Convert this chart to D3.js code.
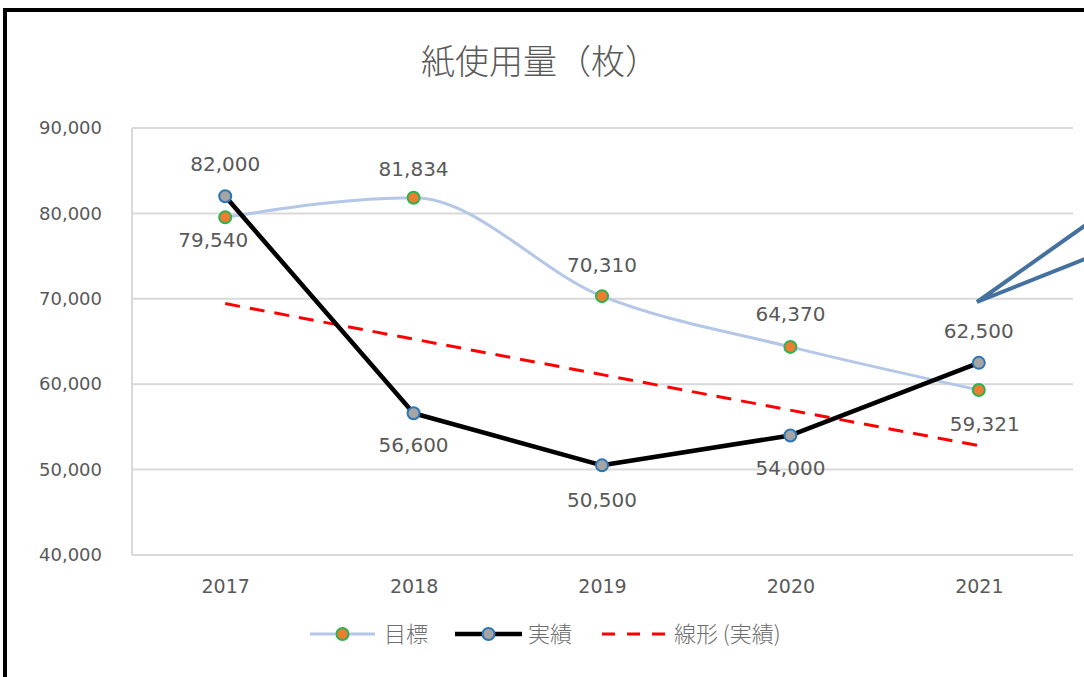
<!DOCTYPE html>
<html lang="ja">
<head>
<meta charset="UTF-8">
<title>紙使用量</title>
<style>
  body { margin: 0; background: #fff; }
  svg { display: block; font-family: "Noto Sans CJK JP", "Noto Sans", sans-serif; }
  .num { font-family: "DejaVu Sans", sans-serif; }
</style>
</head>
<body>
<svg id="chart" width="1084" height="677"></svg>
<script src="https://cdnjs.cloudflare.com/ajax/libs/d3/7.8.5/d3.min.js"></script>
<script>
const years = ['2017', '2018', '2019', '2020', '2021'];
const target = [79540, 81834, 70310, 64370, 59321];   // 目標
const actual = [82000, 56600, 50500, 54000, 62500];   // 実績
const yTicks = [40000, 50000, 60000, 70000, 80000, 90000];
const seriesNames = ['目標', '実績', '線形 (実績)'];

const W = 1084, H = 677;
const svg = d3.select('#chart');
const grey = '#595959';
const fmt = d3.format(',');

const x = d3.scalePoint().domain(years).range([131, 1073]).padding(0.5);
const y = d3.scaleLinear().domain([40000, 90000]).range([555, 128]);

// outer border (only left/top visible)
svg.append('rect')
  .attr('x', 5).attr('y', 10).attr('width', W + 20).attr('height', H + 20)
  .attr('fill', 'none').attr('stroke', '#000').attr('stroke-width', 4);

// title
svg.append('text')
  .attr('x', 540).attr('y', 74)
  .attr('text-anchor', 'middle')
  .attr('font-size', 34).attr('font-weight', 300).attr('fill', grey)
  .text('紙使用量（枚）');

// gridlines
svg.append('g').selectAll('line').data(yTicks).join('line')
  .attr('x1', 132).attr('x2', 1073)
  .attr('y1', d => y(d)).attr('y2', d => y(d))
  .attr('stroke', '#d9d9d9').attr('stroke-width', 2);

// y axis line
svg.append('line')
  .attr('x1', 132).attr('x2', 132).attr('y1', y(90000)).attr('y2', y(40000))
  .attr('stroke', '#d9d9d9').attr('stroke-width', 2);

// y tick labels
const yAxis = d3.axisLeft(y).tickValues(yTicks).tickFormat(fmt).tickSize(0).tickPadding(30);
const gy = svg.append('g').attr('transform', 'translate(132,0)').call(yAxis);
gy.select('.domain').remove();
gy.selectAll('text').attr('class', 'num').attr('font-size', 18).attr('fill', grey).attr('font-family', null);

// x tick labels
const xAxis = d3.axisBottom(x).tickSize(0).tickPadding(25);
const gx = svg.append('g').attr('transform', 'translate(0,555)').call(xAxis);
gx.select('.domain').remove();
gx.selectAll('text').attr('class', 'num').attr('font-size', 19).attr('fill', grey).attr('font-family', null);

// trend line (linear regression of 実績)
const n = actual.length;
const xs = d3.range(1, n + 1);
const mx = d3.mean(xs), my = d3.mean(actual);
const slope = d3.sum(xs, (v, i) => (v - mx) * (actual[i] - my)) / d3.sum(xs, v => (v - mx) ** 2);
const icpt = my - slope * mx;
const trend = [icpt + slope * 1, icpt + slope * n];
svg.append('line')
  .attr('x1', x(years[0])).attr('y1', y(trend[0]))
  .attr('x2', x(years[n - 1])).attr('y2', y(trend[1]))
  .attr('stroke', '#ff0000').attr('stroke-width', 3)
  .attr('stroke-dasharray', '15,10');

// 目標 line (smoothed)
const lineSmooth = d3.line().x((d, i) => x(years[i])).y(d => y(d)).curve(d3.curveMonotoneX);
svg.append('path').datum(target)
  .attr('d', lineSmooth)
  .attr('fill', 'none').attr('stroke', '#b4c7e7').attr('stroke-width', 3);

// 実績 line
const lineStraight = d3.line().x((d, i) => x(years[i])).y(d => y(d));
svg.append('path').datum(actual)
  .attr('d', lineStraight)
  .attr('fill', 'none').attr('stroke', '#000').attr('stroke-width', 4.5)
  .attr('stroke-linejoin', 'round');

// markers
svg.append('g').selectAll('circle').data(target).join('circle')
  .attr('cx', (d, i) => x(years[i])).attr('cy', d => y(d)).attr('r', 6)
  .attr('fill', '#ed7d31').attr('stroke', '#2db24f').attr('stroke-width', 2);
svg.append('g').selectAll('circle').data(actual).join('circle')
  .attr('cx', (d, i) => x(years[i])).attr('cy', d => y(d)).attr('r', 6)
  .attr('fill', '#a5a5a5').attr('stroke', '#2e75b6').attr('stroke-width', 2);

// data labels
const tPos = [[-12, 30], [0, -22], [0, -24], [0, -26], [6, 41]];
const aPos = [[0, -25], [0, 39], [0, 42], [0, 40], [0, -25]];
svg.append('g').selectAll('text').data(target).join('text')
  .attr('class', 'num')
  .attr('x', (d, i) => x(years[i]) + tPos[i][0])
  .attr('y', (d, i) => y(d) + tPos[i][1])
  .attr('text-anchor', 'middle').attr('font-size', 20).attr('fill', grey)
  .text(d => fmt(d));
svg.append('g').selectAll('text').data(actual).join('text')
  .attr('class', 'num')
  .attr('x', (d, i) => x(years[i]) + aPos[i][0])
  .attr('y', (d, i) => y(d) + aPos[i][1])
  .attr('text-anchor', 'middle').attr('font-size', 20).attr('fill', grey)
  .text(d => fmt(d));

// callout pointer
svg.append('path')
  .attr('d', 'M1090,222 L977,302 L1090,257')
  .attr('fill', 'none').attr('stroke', '#44719d').attr('stroke-width', 4)
  .attr('stroke-linejoin', 'miter');

// legend
const lg = svg.append('g').attr('transform', 'translate(0,634)');
const items = [
  { x1: 310, x2: 375, stroke: '#b4c7e7', sw: 3, fill: '#ed7d31', mk: '#2db24f', tx: 384 },
  { x1: 455, x2: 522, stroke: '#000', sw: 4.5, fill: '#a5a5a5', mk: '#2e75b6', tx: 528 },
  { x1: 602, x2: 665, stroke: '#ff0000', sw: 3, dash: '13,12', tx: 674 }
];
items.forEach((it, i) => {
  lg.append('line').attr('x1', it.x1).attr('x2', it.x2).attr('y1', 0).attr('y2', 0)
    .attr('stroke', it.stroke).attr('stroke-width', it.sw)
    .attr('stroke-dasharray', it.dash || null);
  if (it.fill) {
    lg.append('circle').attr('cx', (it.x1 + it.x2) / 2).attr('cy', 0).attr('r', 6)
      .attr('fill', it.fill).attr('stroke', it.mk).attr('stroke-width', 2);
  }
  lg.append('text').attr('x', it.tx).attr('y', 8)
    .attr('font-size', 22).attr('font-weight', 300).attr('fill', '#6e6e6e').text(seriesNames[i]);
});
</script>
</body>
</html>
